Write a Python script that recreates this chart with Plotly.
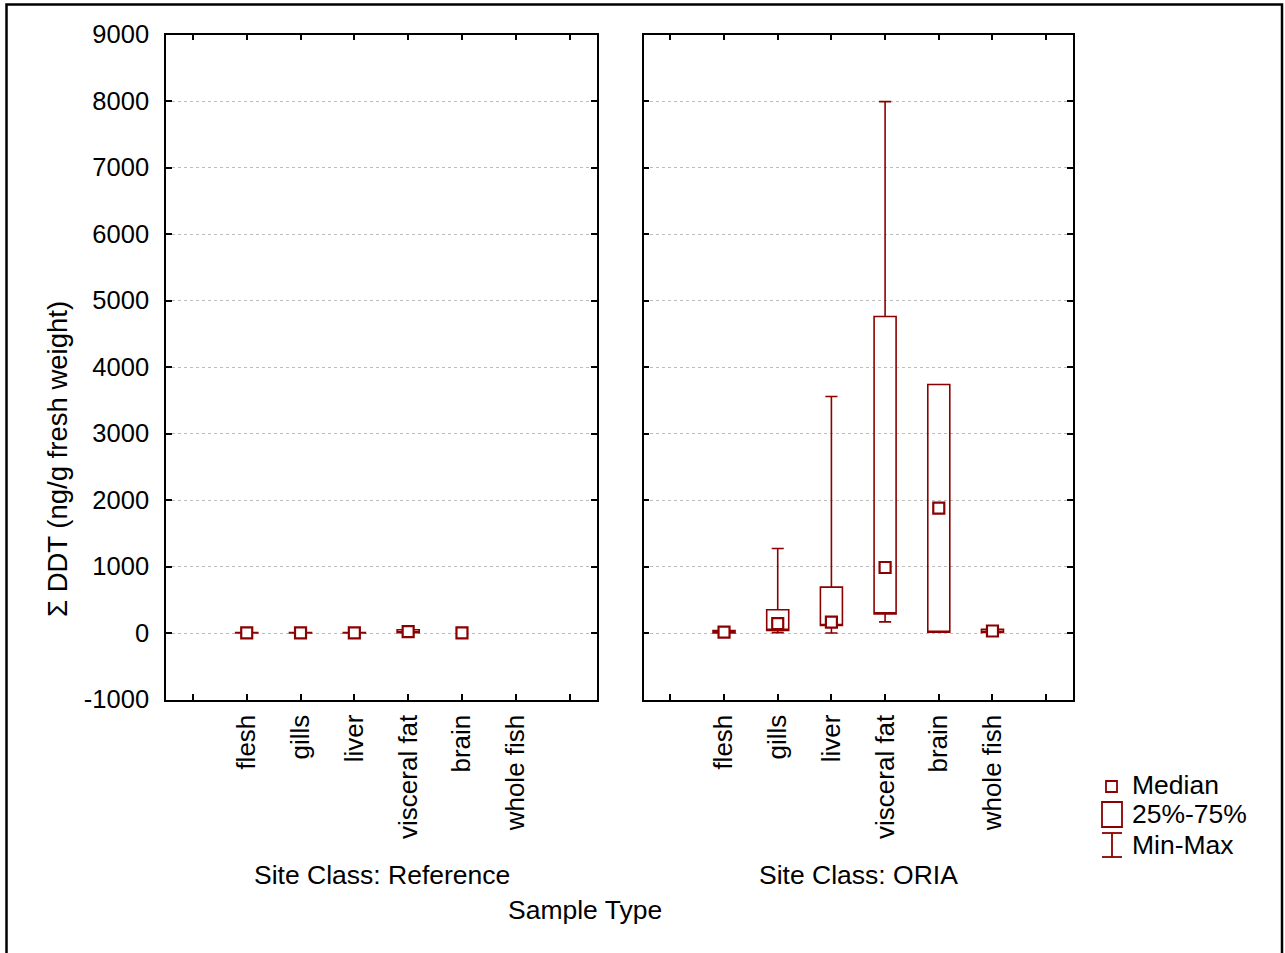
import plotly.graph_objects as go

W, H = 1285, 953

# ---------------- data ----------------
categories = ['flesh', 'gills', 'liver', 'visceral fat', 'brain', 'whole fish']
tick_slots = [''] + categories + ['']

# Site Class: Reference (None = not drawn)
ref_min    = [0, 0, 0, 2, None, None]
ref_q1     = [1, 1, 1, 4, None, None]
ref_median = [3, 3, 3, 22, 2, None]
ref_q3     = [8, 8, 8, 48, None, None]
ref_max    = [10, 10, 10, 55, None, None]

# Site Class: ORIA
oria_min    = [0, 5, 0, 168, 12, 5]
oria_q1     = [2, 40, 113, 288, 12, 8]
oria_median = [12, 140, 163, 985, 1877, 30]
oria_q3     = [37, 350, 690, 4760, 3737, 55]
oria_max    = [37, 1270, 3556, 7990, 3737, 55]

panel_titles = ['Site Class: Reference', 'Site Class: ORIA']
y_title = 'Σ DDT (ng/g fresh weight)'
x_title = 'Sample Type'
legend_labels = ['Median', '25%-75%', 'Min-Max']
y_ticks = list(range(-1000, 10000, 1000))
y_ticktext = [str(v) for v in y_ticks]

# ---------------- style ----------------
RED = '#8b0000'
FONT = 'Liberation Sans, Arial, sans-serif'
FS = 25.5
FA = 26.5


def px(x):
    return x / W


def py(y):
    return 1 - y / H


fig = go.Figure()

panels = [
    (ref_min, ref_q1, ref_median, ref_q3, ref_max, 'x', 'y'),
    (oria_min, oria_q1, oria_median, oria_q3, oria_max, 'x2', 'y2'),
]

for mn, q1, md, q3, mx, xa, ya in panels:
    bx, bq1, bq3, blo, bhi = [], [], [], [], []
    for i, c in enumerate(categories):
        if q1[i] is not None:
            bx.append(tick_slots.index(c))
            bq1.append(q1[i])
            bq3.append(q3[i])
            blo.append(mn[i])
            bhi.append(mx[i])
    fig.add_trace(go.Box(
        x=bx, q1=bq1, median=bq1, q3=bq3, lowerfence=blo, upperfence=bhi,
        width=0.41, whiskerwidth=0.55, boxpoints=False,
        line=dict(color=RED, width=1.6), fillcolor='rgba(0,0,0,0)',
        xaxis=xa, yaxis=ya, showlegend=False, hoverinfo='skip'))
    mxs = [tick_slots.index(c) for i, c in enumerate(categories) if md[i] is not None]
    mys = [v for v in md if v is not None]
    fig.add_trace(go.Scatter(
        x=mxs, y=mys, mode='markers',
        marker=dict(symbol='square', size=11, color='white',
                    line=dict(color=RED, width=2.2)),
        xaxis=xa, yaxis=ya, showlegend=False, hoverinfo='skip'))

# panel pixel geometry
L1, R1 = 166, 596.5
L2, R2 = 643.5, 1073
TOP, BOT = 34.5, 699.5

xcommon = dict(
    range=[-0.5, len(tick_slots) - 0.5], tickmode='array',
    tickvals=list(range(len(tick_slots))), ticktext=tick_slots,
    tickangle=-90, ticks='inside', ticklen=6, tickwidth=1.5, tickcolor='black',
    showline=True, linecolor='black', linewidth=1.6, mirror='ticks',
    showgrid=False, zeroline=False, ticklabelstandoff=3,
    tickfont=dict(family=FONT, size=26, color='black'), automargin=False)
ycommon = dict(
    range=[-1000, 9000], tickmode='array', tickvals=y_ticks, ticktext=y_ticktext,
    ticks='inside', ticklen=6, tickwidth=1.5, tickcolor='black',
    showline=True, linecolor='black', linewidth=1.6, mirror='ticks',
    showgrid=True, gridcolor='#bdbdbd', gridwidth=1, griddash='dot',
    zeroline=False, ticklabelstandoff=10,
    tickfont=dict(family=FONT, size=FS, color='black'), automargin=False)

fig.update_layout(
    width=W, height=H, template='none',
    margin=dict(l=0, r=0, t=0, b=0),
    paper_bgcolor='white', plot_bgcolor='white',
    boxmode='overlay', showlegend=False,
    font=dict(family=FONT, size=FS, color='black'),
    xaxis=dict(domain=[px(L1), px(R1)], anchor='y', **xcommon),
    yaxis=dict(domain=[py(BOT), py(TOP)], anchor='x', **ycommon),
    xaxis2=dict(domain=[px(L2), px(R2)], anchor='y2', **xcommon),
    yaxis2=dict(domain=[py(BOT), py(TOP)], anchor='x2', matches='y',
                showticklabels=False, **{k: v for k, v in ycommon.items()}),
)

ann = []
ann.append(dict(x=px(381.5), y=py(875), text=panel_titles[0]))
ann.append(dict(x=px(858), y=py(875), text=panel_titles[1]))
ann.append(dict(x=px(585), y=py(910), text=x_title))
ann.append(dict(x=px(57), y=py(459), text=y_title, textangle=-90, size=27.5))
for lbl, yy in zip(legend_labels, [785, 814, 845]):
    ann.append(dict(x=px(1130), y=py(yy), text=lbl, xanchor='left'))
for a in ann:
    a.setdefault('xanchor', 'center')
    sz = a.pop('size', FA)
    a.update(xref='paper', yref='paper', yanchor='middle', showarrow=False,
             font=dict(family=FONT, size=sz, color='black'))
fig.update_layout(annotations=ann)

shapes = []
# outer frame
shapes.append(dict(type='rect', x0=px(6.5), x1=px(1282), y0=py(960), y1=py(4.5),
                   line=dict(color='black', width=2.5)))
# legend symbols
lc = dict(color=RED, width=1.8)
shapes.append(dict(type='rect', x0=px(1106), x1=px(1117), y0=py(792), y1=py(781), line=lc))
shapes.append(dict(type='rect', x0=px(1102), x1=px(1122), y0=py(827), y1=py(802), line=lc))
shapes.append(dict(type='line', x0=px(1112), x1=px(1112), y0=py(857), y1=py(833), line=lc))
shapes.append(dict(type='line', x0=px(1102), x1=px(1122), y0=py(833), y1=py(833), line=lc))
shapes.append(dict(type='line', x0=px(1102), x1=px(1122), y0=py(857), y1=py(857), line=lc))
for s in shapes:
    s.update(xref='paper', yref='paper', layer='above')
fig.update_layout(shapes=shapes)

fig.write_html('out.html')
